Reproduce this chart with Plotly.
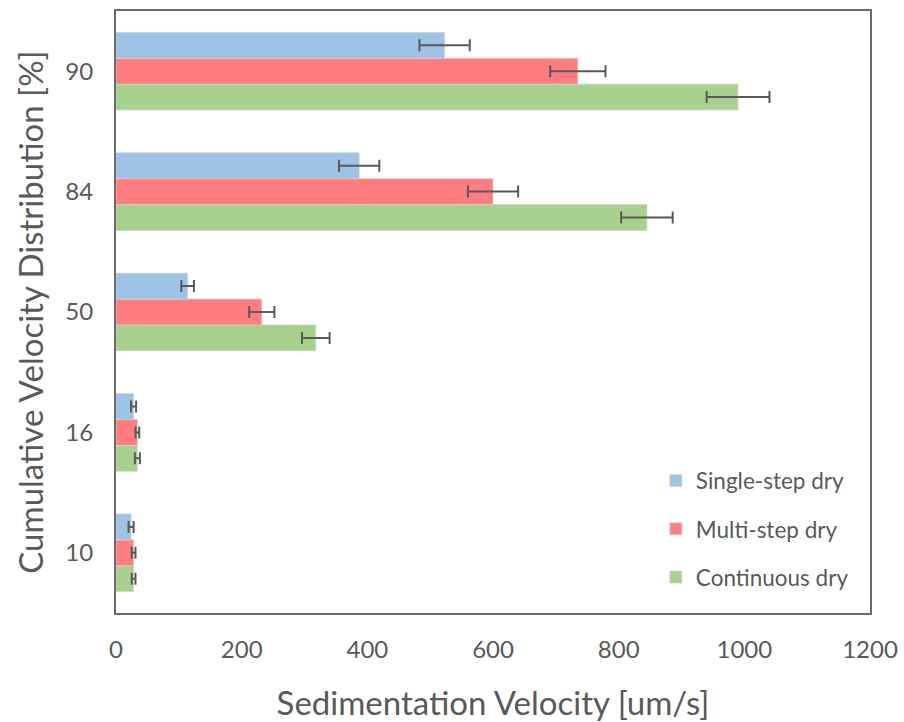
import plotly.graph_objects as go

categories = ["10", "16", "50", "84", "90"]
series_names = ["Single-step dry", "Multi-step dry", "Continuous dry"]
single = [24, 28, 114, 387, 523]
single_err = [4, 4, 10, 32, 40]
multi = [28, 34, 232, 600, 735]
multi_err = [3, 3, 20, 40, 44]
cont = [28, 34, 318, 845, 990]
cont_err = [3, 4, 22, 41, 50]
x_ticks = [0, 200, 400, 600, 800, 1000, 1200]

colors = ["#9DC3E6", "#FF7C80", "#A9D18E"]
FONT = "Lato, Carlito, Calibri, sans-serif"
GREY = "#595959"

fig = go.Figure()
data = [(series_names[2], cont, cont_err, colors[2], 3),
        (series_names[1], multi, multi_err, colors[1], 2),
        (series_names[0], single, single_err, colors[0], 1)]
for name, vals, errs, col, rank in data:
    fig.add_trace(go.Bar(
        y=categories, x=vals, name=name, orientation="h",
        legendgroup=name, legendrank=rank,
        marker=dict(color=col, line=dict(color="rgba(210,210,210,0.9)", width=0.8)),
        error_x=dict(type="data", array=errs, visible=True, color=GREY,
                     thickness=2, width=6),
    ))

fig.update_layout(
    width=904, height=722,
    margin=dict(l=116, r=34, t=11, b=109),
    paper_bgcolor="white", plot_bgcolor="white",
    barmode="group", bargap=0.355, bargroupgap=0,
    font=dict(family=FONT, color=GREY),
    legend=dict(
        x=0.716, y=0.255, xanchor="left", yanchor="top",
        traceorder="grouped", tracegroupgap=16,
        font=dict(size=22.5, color=GREY, family=FONT),
        bgcolor="rgba(0,0,0,0)",
    ),
    xaxis=dict(
        range=[0, 1200], tickvals=x_ticks, showgrid=False, zeroline=False,
        showline=True, linecolor="#6b6b6b", linewidth=2, mirror=True,
        ticks="", tickfont=dict(size=24, color=GREY, family=FONT),
        ticklabelstandoff=14, automargin=False,
        title=dict(text="Sedimentation Velocity [um/s]",
                   font=dict(size=33, color=GREY, family=FONT), standoff=34),
    ),
    yaxis=dict(
        categoryorder="array", categoryarray=categories,
        showgrid=False, zeroline=False,
        showline=True, linecolor="#6b6b6b", linewidth=2, mirror=True,
        ticks="", tickfont=dict(size=24, color=GREY, family=FONT),
        ticklabelstandoff=16, automargin=False,
        title=dict(text="Cumulative Velocity Distribution [%]",
                   font=dict(size=33, color=GREY, family=FONT), standoff=12),
    ),
)

fig.write_html("out.html")
